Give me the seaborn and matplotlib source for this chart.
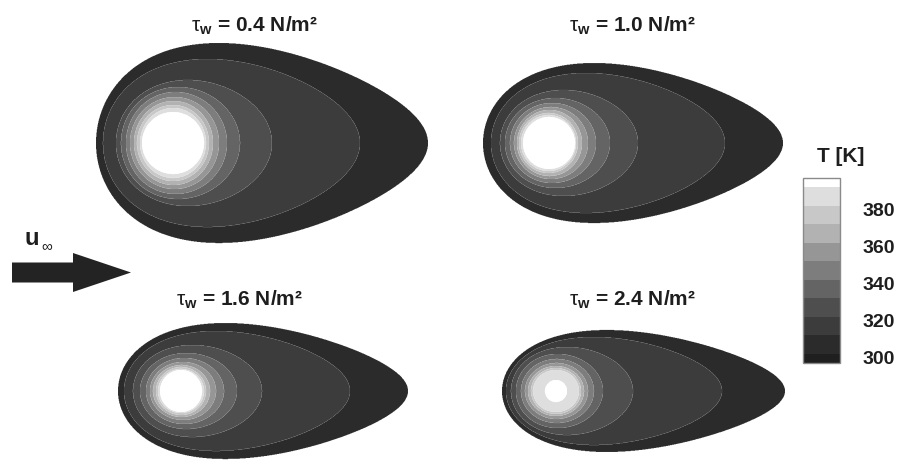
import numpy as np
import matplotlib
matplotlib.use("Agg")
import matplotlib.pyplot as plt
from matplotlib.colors import BoundaryNorm, ListedColormap
from matplotlib.cm import ScalarMappable
from matplotlib.transforms import ScaledTranslation
import seaborn as sns

# ---------------------------------------------------------------- data
# Isotherm levels [K] (band edges) and colour-bar ticks
levels = [300, 310, 320, 330, 340, 350, 360, 370, 380, 390]
cbar_ticks = [300, 320, 340, 360, 380]
wall_shear = ["0.4", "1.0", "1.6", "2.4"]          # tau_w [N/m^2]

# Isotherm extents [mm] relative to the heater centre, one entry per level
# (upstream edge, downstream edge, half width across the flow)
x_up_04 = [-3.85, -3.50, -2.85, -2.60, -2.35, -2.15, -1.95, -1.80, -1.65, -1.55]
x_dn_04 = [12.75, 9.35, 4.95, 3.35, 2.70, 2.30, 2.00, 1.80, 1.65, 1.55]
half_04 = [5.00, 4.20, 3.15, 2.80, 2.55, 2.30, 2.10, 1.90, 1.75, 1.55]

x_up_10 = [-3.30, -2.90, -2.45, -2.20, -1.95, -1.75, -1.60, -1.50, -1.40, -1.30]
x_dn_10 = [11.70, 8.80, 4.45, 3.05, 2.35, 1.95, 1.65, 1.45, 1.35, 1.30]
half_10 = [4.00, 3.50, 2.65, 2.25, 2.00, 1.80, 1.65, 1.50, 1.40, 1.30]

x_up_16 = [-3.15, -2.85, -2.40, -2.05, -1.75, -1.55, -1.40, -1.25, -1.15, -1.05]
x_dn_16 = [11.35, 8.45, 4.05, 2.80, 2.15, 1.75, 1.45, 1.25, 1.15, 1.05]
half_16 = [3.40, 3.00, 2.30, 1.90, 1.65, 1.45, 1.30, 1.20, 1.10, 1.05]

x_up_24 = [-2.70, -2.50, -2.25, -2.00, -1.75, -1.55, -1.40, -1.25, -1.15, -0.55]
x_dn_24 = [11.45, 8.30, 3.85, 2.35, 1.90, 1.60, 1.40, 1.25, 1.15, 0.55]
half_24 = [3.05, 2.70, 2.20, 1.85, 1.60, 1.40, 1.25, 1.15, 1.05, 0.55]

# Fore/aft asymmetry of each isotherm (blunt upstream, tapered wake)
isotherm_skew = [0.30, 0.20, 0.08, 0.04, 0.02, 0.0, 0.0, 0.0, 0.0, 0.0]

# ---------------------------------------------------------------- style
sns.set_theme(style="white")
plt.rcParams["font.family"] = ["Liberation Sans", "DejaVu Sans"]
plt.rcParams["mathtext.fontset"] = "custom"
plt.rcParams["mathtext.rm"] = "Liberation Sans"
plt.rcParams["mathtext.bf"] = "Liberation Sans:bold"
plt.rcParams["mathtext.it"] = "Liberation Sans:italic"

TEXT = "#1e1e1e"
band_grays = ["#2b2b2b", "#3c3c3c", "#4e4e4e", "#646464", "#7d7d7d",
              "#969696", "#b2b2b2", "#c8c8c8", "#dedede"]
cmap = ListedColormap(sns.color_palette(band_grays))
cmap = cmap.with_extremes(under="#1f1f1f", over="#ffffff")
norm = BoundaryNorm(levels, cmap.N)

W, H = 899, 463
PX_PER_MM = 20.0
fig = plt.figure(figsize=(W / 100, H / 100), dpi=100)

panels = [
    dict(shape=(x_up_04, x_dn_04, half_04), box=(85, 30, 445, 255), centre=(173, 143),
         title_at=(254, 31.5)),
    dict(shape=(x_up_10, x_dn_10, half_10), box=(470, 30, 800, 255), centre=(549, 143),
         title_at=(632, 31.5)),
    dict(shape=(x_up_16, x_dn_16, half_16), box=(105, 300, 445, 463), centre=(181, 391),
         title_at=(239, 305.5)),
    dict(shape=(x_up_24, x_dn_24, half_24), box=(495, 300, 800, 463), centre=(556, 391),
         title_at=(632, 305.5)),
]


def temperature_field(X, Y, x_up, x_dn, half):
    """Banded temperature: each point takes the band of the innermost isotherm enclosing it."""
    T = np.full(X.shape, levels[0] - 5.0)
    uu = np.linspace(-1, 1, 4001)
    for lev, l, r, h, c in zip(levels, x_up, x_dn, half, isotherm_skew):
        xm, a = 0.5 * (l + r), 0.5 * (r - l)
        u = (X - xm) / a
        wmax = np.max(np.sqrt(1 - uu ** 2) * (1 - c * uu))
        prof = np.sqrt(np.clip(1 - u ** 2, 0, None)) * (1 - c * u) / wmax
        inside = (np.abs(u) < 1) & (np.abs(Y) <= h * prof)
        T = np.where(inside, lev + 5.0, T)
    return T


for p in panels:
    x0, y0, x1, y1 = p["box"]
    cx, cy = p["centre"]
    ax = fig.add_axes([x0 / W, 1 - y1 / H, (x1 - x0) / W, (y1 - y0) / H])
    xlim = ((x0 - cx) / PX_PER_MM, (x1 - cx) / PX_PER_MM)
    ylim = ((cy - y1) / PX_PER_MM, (cy - y0) / PX_PER_MM)
    xs = np.linspace(*xlim, int((x1 - x0) * 2.5))
    ys = np.linspace(*ylim, int((y1 - y0) * 2.5))
    X, Y = np.meshgrid(xs, ys)
    T = temperature_field(X, Y, *p["shape"])
    ax.contourf(X, Y, T, levels=levels, cmap=cmap, norm=norm, extend="max",
                antialiased=True)
    ax.set_xlim(*xlim)
    ax.set_ylim(*ylim)
    ax.axis("off")

# Overlay in pixel units for titles, flow arrow and labels
ov = fig.add_axes([0, 0, 1, 1])
ov.set_xlim(0, W)
ov.set_ylim(H, 0)
ov.axis("off")

for p, tw in zip(panels, wall_shear):
    tx, ty = p["title_at"]
    ov.text(tx, ty, r"$\mathrm{\tau}_{\mathbf{w}}$" + f" = {tw} N/m\u00b2",
            ha="center", va="baseline", fontsize=15, fontweight="bold", color=TEXT)

# Free-stream arrow
ov.arrow(12, 272.5, 119, 0, width=20, head_width=39, head_length=58,
         length_includes_head=True, color="#232323", lw=0)
ov.text(24, 245, "u", ha="left", va="baseline", fontsize=17, fontweight="bold", color=TEXT)
ov.text(41, 250, "\u221e", ha="left", va="baseline", fontsize=11, color=TEXT)

# Colour bar
cax = fig.add_axes([803 / W, 1 - 363 / H, 37 / W, 185 / H])
cb = fig.colorbar(ScalarMappable(norm=norm, cmap=cmap), cax=cax, extend="both",
                  extendrect=True, extendfrac=0.055, ticks=cbar_ticks)
cb.minorticks_off()
cb.outline.set_edgecolor("#8a8a8a")
cb.outline.set_linewidth(1.0)
cax.tick_params(which="both", length=0, width=0, pad=16, labelsize=14, colors=TEXT)
shift = ScaledTranslation(0, -4 / 100, fig.dpi_scale_trans)
for lab in cax.get_yticklabels():
    lab.set_fontweight("bold")
    lab.set_transform(lab.get_transform() + shift)
ov.text(841, 156, "T [K]", ha="center", va="center", fontsize=15,
        fontweight="bold", color=TEXT)

fig.savefig("out.png", dpi=100)
